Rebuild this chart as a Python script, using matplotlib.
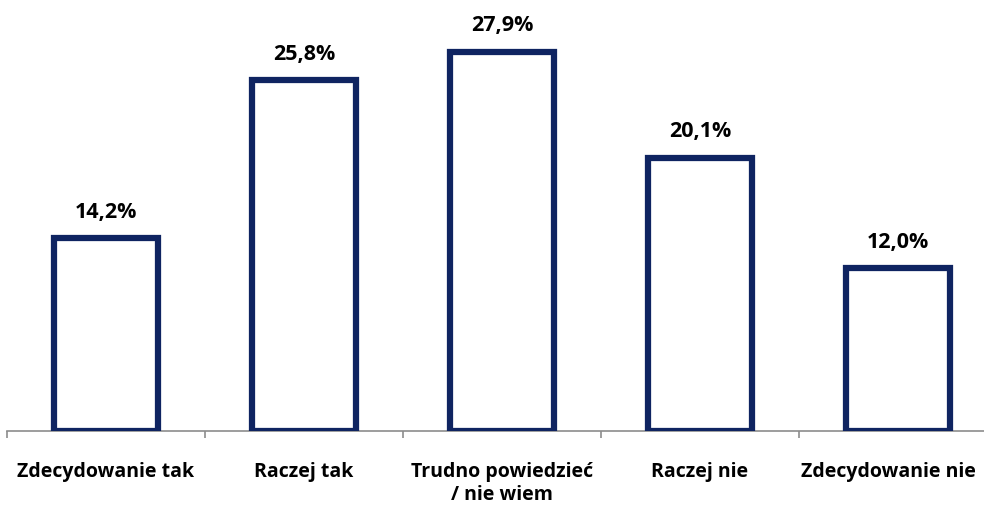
import matplotlib
matplotlib.use("Agg")
import matplotlib.pyplot as plt
import matplotlib.transforms as mtransforms
import numpy as np

categories = ["Zdecydowanie tak", "Raczej tak", "Trudno powiedzieć\n/ nie wiem", "Raczej nie", "Zdecydowanie nie"]
values = [14.2, 25.8, 27.9, 20.1, 12.0]
value_labels = ["14,2%", "25,8%", "27,9%", "20,1%", "12,0%"]

plt.rcParams['font.family'] = ['Open Sans', 'DejaVu Sans']

W, H = 984, 509
fig = plt.figure(figsize=(W / 100, H / 100), dpi=100)
# axes in pixel terms: x from 7 to 997, baseline at y=431, 13.6 px per %
ymax = 30
ax = fig.add_axes([7 / W, 1 - 431 / H, 990 / W, ymax * 13.6 / H])

x = np.arange(len(values))
navy = "#0F2461"
ax.bar(x, values, width=0.53, facecolor="white", edgecolor=navy, linewidth=4.5, zorder=3)

for xi, v, lab in zip(x, values, value_labels):
    ax.annotate(lab, (xi, v), xytext=(0, 11), textcoords="offset points",
                ha="center", va="bottom", fontsize=15.5, fontweight="bold", color="black")

ax.set_xlim(-0.5, len(values) - 0.5)
ax.set_ylim(0, ymax)
for s in ["top", "right", "left"]:
    ax.spines[s].set_visible(False)
ax.spines["bottom"].set_color("#8c8c8c")
ax.spines["bottom"].set_linewidth(1.2)
ax.set_yticks([])

# tick marks at category boundaries
ax.set_xticks(np.arange(len(values) + 1) - 0.5)
ax.set_xticklabels([])
ax.tick_params(axis="x", length=5, width=1.2, color="#8c8c8c", direction="out")
ax.set_xticks(x, minor=True)
ax.set_xticklabels(categories, minor=True, fontsize=14, fontweight="bold", linespacing=1.25)
ax.tick_params(axis="x", which="minor", length=0, pad=22)

# last label is pushed left so it stays inside the figure
last = ax.get_xticklabels(minor=True)[-1]
last.set_transform(last.get_transform() + mtransforms.ScaledTranslation(-10 / 100, 0, fig.dpi_scale_trans))

fig.savefig("out.png", dpi=100)
